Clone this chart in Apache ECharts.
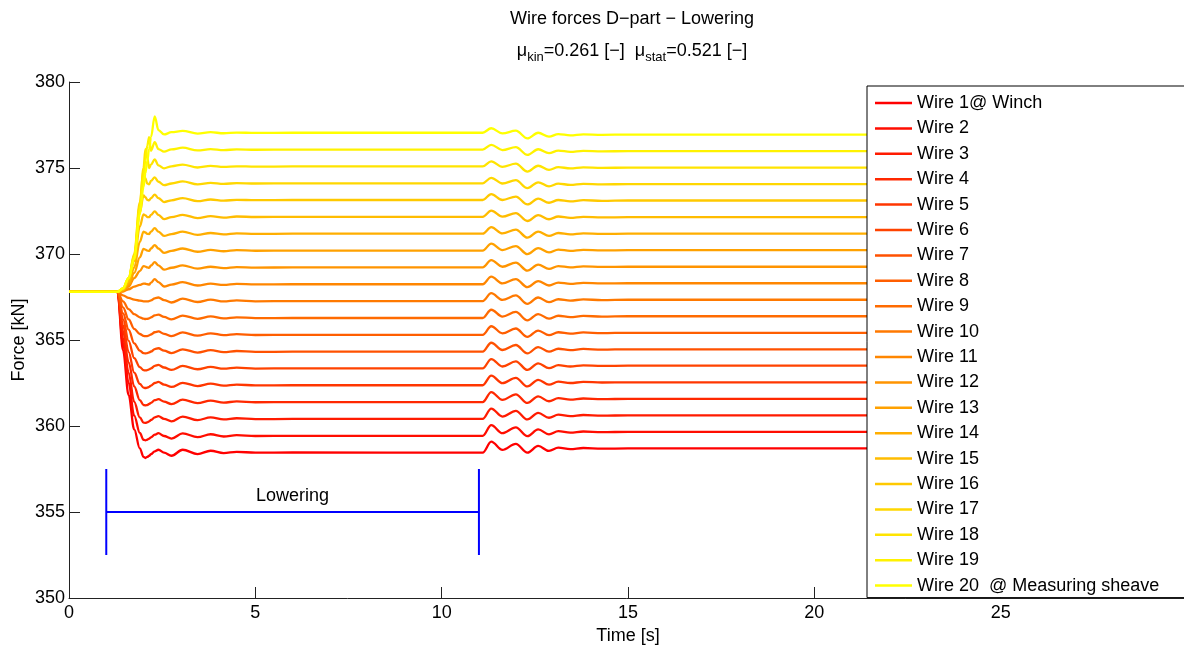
<!DOCTYPE html>
<html>
<head>
<meta charset="utf-8">
<title>Wire forces D-part - Lowering</title>
<script src="https://cdn.jsdelivr.net/npm/echarts@6/dist/echarts.min.js"></script>
<style>
  html, body { margin: 0; padding: 0; background: #fff; }
  #chart { width: 1184px; height: 646px; }
</style>
</head>
<body>
<div id="chart"></div>
<script>
// Simulation time [s]
const time = [0, 1.3, 1.45, 1.6, 1.75, 1.9, 2.0, 2.05, 2.1, 2.15, 2.2, 2.3, 2.4, 2.55, 2.75, 3.05, 3.45, 3.8, 4.15, 4.5, 5.0, 6.0, 11.1,
  11.33, 11.63, 11.99, 12.3, 12.59, 12.88, 13.13, 13.45, 13.8, 14.3, 15.0, 30];

// Wire forces [kN], from the winch (wire 1) to the measuring sheave (wire 20)
const wire01 = [367.8, 367.8, 364.4, 361.8, 359.8, 358.7, 358.2, 358.14, 358.2, 358.27, 358.36, 358.53, 358.62, 358.45, 358.27, 358.62, 358.37, 358.56, 358.42, 358.5, 358.45, 358.46, 358.45,
  359.09, 358.61, 358.96, 358.45, 358.84, 358.55, 358.74, 358.65, 358.72, 358.68, 358.70, 358.70];
const wire02 = [367.8, 367.8, 364.8, 362.5, 360.6, 359.6, 359.2, 359.17, 359.2, 359.26, 359.34, 359.5, 359.58, 359.42, 359.27, 359.57, 359.35, 359.52, 359.39, 359.47, 359.42, 359.43, 359.43,
  360.05, 359.58, 359.92, 359.41, 359.80, 359.51, 359.70, 359.61, 359.68, 359.64, 359.66, 359.66];
const wire03 = [367.8, 367.8, 365.1, 363.1, 361.4, 360.5, 360.2, 360.18, 360.21, 360.27, 360.35, 360.5, 360.57, 360.42, 360.27, 360.55, 360.34, 360.5, 360.38, 360.45, 360.4, 360.41, 360.41,
  361.01, 360.55, 360.88, 360.38, 360.76, 360.48, 360.66, 360.57, 360.64, 360.60, 360.62, 360.62];
const wire04 = [367.8, 367.8, 365.5, 363.7, 362.3, 361.5, 361.22, 361.2, 361.22, 361.28, 361.35, 361.5, 361.56, 361.42, 361.27, 361.53, 361.33, 361.48, 361.36, 361.43, 361.38, 361.39, 361.39,
  361.97, 361.52, 361.84, 361.34, 361.72, 361.44, 361.62, 361.53, 361.60, 361.56, 361.58, 361.58];
const wire05 = [367.8, 367.8, 365.85, 364.3, 363.1, 362.45, 362.23, 362.21, 362.23, 362.28, 362.35, 362.5, 362.56, 362.41, 362.27, 362.51, 362.32, 362.46, 362.35, 362.41, 362.36, 362.37, 362.37,
  362.93, 362.49, 362.80, 362.30, 362.68, 362.40, 362.58, 362.50, 362.56, 362.53, 362.54, 362.54];
const wire06 = [367.8, 367.8, 366.2, 364.95, 363.95, 363.42, 363.25, 363.23, 363.25, 363.29, 363.35, 363.5, 363.55, 363.4, 363.26, 363.49, 363.3, 363.44, 363.33, 363.39, 363.34, 363.35, 363.35,
  363.89, 363.46, 363.76, 363.26, 363.64, 363.36, 363.54, 363.46, 363.53, 363.49, 363.51, 363.51];
const wire07 = [367.8, 367.8, 366.55, 365.6, 364.8, 364.38, 364.24, 364.22, 364.24, 364.28, 364.33, 364.47, 364.52, 364.38, 364.24, 364.46, 364.27, 364.41, 364.3, 364.36, 364.31, 364.32, 364.32,
  364.84, 364.42, 364.71, 364.22, 364.59, 364.32, 364.49, 364.41, 364.48, 364.44, 364.46, 364.46];
const wire08 = [367.8, 367.8, 366.9, 366.2, 365.65, 365.35, 365.24, 365.22, 365.23, 365.27, 365.32, 365.45, 365.5, 365.36, 365.22, 365.44, 365.25, 365.39, 365.28, 365.34, 365.29, 365.3, 365.3,
  365.80, 365.39, 365.67, 365.18, 365.55, 365.28, 365.45, 365.37, 365.44, 365.40, 365.42, 365.42];
const wire09 = [367.8, 367.8, 367.25, 366.8, 366.5, 366.32, 366.24, 366.22, 366.23, 366.26, 366.31, 366.43, 366.48, 366.34, 366.2, 366.42, 366.23, 366.37, 366.26, 366.32, 366.27, 366.28, 366.28,
  366.76, 366.36, 366.63, 366.14, 366.51, 366.24, 366.41, 366.33, 366.40, 366.36, 366.38, 366.38];
const wire10 = [367.8, 367.8, 367.6, 367.45, 367.35, 367.29, 367.25, 367.24, 367.24, 367.26, 367.3, 367.42, 367.47, 367.32, 367.18, 367.4, 367.21, 367.35, 367.24, 367.3, 367.25, 367.26, 367.26,
  367.72, 367.33, 367.59, 367.10, 367.47, 367.20, 367.37, 367.29, 367.36, 367.32, 367.34, 367.34];
const wire11 = [367.8, 367.8, 367.82, 367.95, 368.1, 368.2, 368.28, 368.27, 368.24, 368.22, 368.34, 368.54, 368.36, 368.11, 368.22, 368.36, 368.17, 368.28, 368.2, 368.26, 368.23, 368.24, 368.24,
  368.68, 368.29, 368.54, 368.07, 368.42, 368.17, 368.34, 368.26, 368.32, 368.29, 368.30, 368.30];
const wire12 = [367.8, 367.8, 367.85, 368.1, 368.6, 369.0, 369.3, 369.27, 369.22, 369.2, 369.33, 369.53, 369.34, 369.09, 369.2, 369.34, 369.15, 369.26, 369.18, 369.24, 369.21, 369.22, 369.22,
  369.64, 369.26, 369.50, 369.03, 369.38, 369.13, 369.30, 369.22, 369.28, 369.25, 369.26, 369.26];
const wire13 = [367.8, 367.8, 367.9, 368.2, 368.9, 369.8, 370.3, 370.26, 370.2, 370.18, 370.32, 370.52, 370.32, 370.07, 370.18, 370.32, 370.13, 370.24, 370.16, 370.22, 370.19, 370.2, 370.2,
  370.60, 370.23, 370.46, 369.99, 370.34, 370.09, 370.26, 370.18, 370.24, 370.21, 370.22, 370.22];
const wire14 = [367.8, 367.8, 367.9, 368.3, 369.2, 370.7, 371.3, 371.25, 371.17, 371.16, 371.3, 371.5, 371.3, 371.05, 371.16, 371.3, 371.11, 371.22, 371.14, 371.2, 371.17, 371.18, 371.18,
  371.56, 371.20, 371.42, 370.95, 371.30, 371.05, 371.22, 371.14, 371.20, 371.17, 371.18, 371.18];
const wire15 = [367.8, 367.8, 367.95, 368.4, 369.6, 371.6, 372.3, 372.25, 372.15, 372.14, 372.28, 372.48, 372.28, 372.03, 372.14, 372.28, 372.09, 372.2, 372.12, 372.18, 372.15, 372.16, 372.16,
  372.52, 372.17, 372.38, 371.92, 372.26, 372.02, 372.18, 372.10, 372.16, 372.13, 372.14, 372.14];
const wire16 = [367.8, 367.8, 367.95, 368.5, 369.8, 372.4, 373.4, 373.3, 373.15, 373.12, 373.25, 373.45, 373.25, 373.02, 373.12, 373.25, 373.07, 373.17, 373.1, 373.15, 373.13, 373.14, 373.14,
  373.48, 373.14, 373.34, 372.88, 373.22, 372.98, 373.14, 373.06, 373.13, 373.09, 373.11, 373.11];
const wire17 = [367.8, 367.8, 368.0, 368.6, 370.0, 373.0, 374.9, 374.4, 374.1, 374.05, 374.25, 374.45, 374.2, 374.0, 374.1, 374.22, 374.05, 374.14, 374.08, 374.12, 374.1, 374.11, 374.11,
  374.43, 374.10, 374.29, 373.83, 374.17, 373.93, 374.09, 374.02, 374.08, 374.05, 374.06, 374.06];
const wire18 = [367.8, 367.8, 368.0, 368.6, 369.9, 372.8, 375.0, 376.1, 375.6, 375.0, 375.2, 375.5, 375.15, 374.98, 375.1, 375.2, 375.03, 375.12, 375.06, 375.1, 375.08, 375.09, 375.09,
  375.39, 375.07, 375.25, 374.79, 375.13, 374.89, 375.05, 374.98, 375.04, 375.01, 375.02, 375.02];
const wire19 = [367.8, 367.8, 368.0, 368.6, 369.8, 372.6, 374.5, 375.5, 376.3, 376.8, 376.0, 376.5, 376.1, 375.95, 376.08, 376.18, 376.02, 376.1, 376.04, 376.08, 376.06, 376.07, 376.07,
  376.35, 376.04, 376.21, 375.76, 376.09, 375.86, 376.01, 375.94, 376.00, 375.97, 375.98, 375.98];
const wire20 = [367.8, 367.8, 368.0, 368.6, 369.7, 372.3, 373.9, 374.7, 375.4, 376.1, 376.8, 378.0, 377.2, 376.95, 377.08, 377.16, 377.0, 377.08, 377.02, 377.06, 377.04, 377.05, 377.05,
  377.31, 377.01, 377.17, 376.72, 377.05, 376.82, 376.97, 376.90, 376.96, 376.93, 376.94, 376.94];

const wireNames = ['Wire 1@ Winch', 'Wire 2', 'Wire 3', 'Wire 4', 'Wire 5', 'Wire 6', 'Wire 7', 'Wire 8', 'Wire 9', 'Wire 10',
  'Wire 11', 'Wire 12', 'Wire 13', 'Wire 14', 'Wire 15', 'Wire 16', 'Wire 17', 'Wire 18', 'Wire 19', 'Wire 20  @ Measuring sheave'];

// Lowering phase: start/end time [s], marker level and bar end heights [kN]
const loweringStart = 1;
const loweringEnd = 11;
const loweringLevel = 355;
const loweringLow = 352.5;
const loweringHigh = 357.5;
const loweringText = 'Lowering';
const loweringTextPos = [6, 355.9];

const wires = [wire01, wire02, wire03, wire04, wire05, wire06, wire07, wire08, wire09, wire10,
  wire11, wire12, wire13, wire14, wire15, wire16, wire17, wire18, wire19, wire20];

const FONT = '"Liberation Sans", Arial, Helvetica, sans-serif';

// red -> yellow ("autumn") colour ramp over the wires
function wireColor(i, n) {
  const g = Math.round(255 * i / (n - 1));
  return 'rgb(255,' + g + ',0)';
}

const series = wires.map((vals, i) => {
  const c = wireColor(i, wires.length);
  return {
    type: 'line',
    name: wireNames[i],
    data: time.map((t, j) => [t, vals[j]]),
    smooth: 0.35,
    smoothMonotone: 'x',
    symbol: 'none',
    showSymbol: false,
    lineStyle: { width: 2.3, color: c },
    itemStyle: { color: c },
    emphasis: { disabled: true },
    z: 2
  };
});

const blue = '#0000ff';
function bar(points) {
  return {
    type: 'line', name: 'lowering-bar', data: points, symbol: 'none',
    lineStyle: { width: 2, color: blue }, itemStyle: { color: blue },
    emphasis: { disabled: true }, silent: true, z: 3
  };
}
series.push(bar([[loweringStart, loweringLow], [loweringStart, loweringHigh]]));
series.push(bar([[loweringStart, loweringLevel], [loweringEnd, loweringLevel]]));
series.push(bar([[loweringEnd, loweringLow], [loweringEnd, loweringHigh]]));
series.push({
  type: 'scatter', name: 'lowering-label', data: [loweringTextPos], symbolSize: 0, silent: true,
  itemStyle: { color: '#000', opacity: 1 },
  label: { show: true, position: 'inside', formatter: loweringText, fontSize: 18, color: '#000', fontFamily: FONT }
});

const chart = echarts.init(document.getElementById('chart'), null, { renderer: 'canvas' });
chart.setOption({
  animation: false,
  backgroundColor: '#fff',
  title: {
    text: 'Wire forces D\u2212part \u2212 Lowering',
    subtext: '{n|\u03bc}{s|kin}{n|=0.261 [\u2212]  \u03bc}{s|stat}{n|=0.521 [\u2212]}',
    left: 627,
    top: 5,
    textAlign: 'center',
    itemGap: 14,
    textStyle: { fontSize: 18, fontWeight: 'normal', color: '#000', fontFamily: FONT },
    subtextStyle: {
      fontFamily: FONT, color: '#000',
      rich: {
        n: { fontSize: 18, lineHeight: 20, verticalAlign: 'top', color: '#000', fontFamily: FONT },
        s: { fontSize: 13, lineHeight: 14, padding: [9, 0, 0, 0], verticalAlign: 'top', color: '#000', fontFamily: FONT }
      }
    }
  },
  grid: { left: 69, top: 82, width: 1118, height: 516, containLabel: false, outerBoundsMode: 'none' },
  legend: {
    data: wireNames,
    orient: 'vertical',
    left: 867,
    top: 86,
    icon: 'rect',
    itemWidth: 37,
    itemHeight: 2.5,
    itemGap: 5.4,
    padding: [7, 40, 2, 8],
    backgroundColor: '#fff',
    borderColor: '#000',
    borderWidth: 1,
    selectedMode: false,
    z: 10,
    textStyle: { fontSize: 18, color: '#000', fontFamily: FONT, lineHeight: 20 }
  },
  xAxis: {
    type: 'value', min: 0, max: 30, interval: 5,
    name: 'Time [s]', nameLocation: 'middle', nameGap: 28,
    nameTextStyle: { fontSize: 18, color: '#000', fontFamily: FONT },
    axisLine: { show: true, onZero: false, lineStyle: { color: '#222', width: 1 } },
    axisTick: { show: true, inside: true, length: 11, lineStyle: { color: '#222' } },
    axisLabel: { fontSize: 18, color: '#000', fontFamily: FONT, margin: 6,
      formatter: v => (v >= 30 ? '' : String(v)) },
    splitLine: { show: false }
  },
  yAxis: {
    type: 'value', min: 350, max: 380, interval: 5,
    name: 'Force [kN]', nameLocation: 'middle', nameGap: 41, nameMoveOverlap: false,
    nameTextStyle: { fontSize: 18, color: '#000', fontFamily: FONT },
    axisLine: { show: true, onZero: false, lineStyle: { color: '#222', width: 1 } },
    axisTick: { show: true, inside: true, length: 11, lineStyle: { color: '#222' } },
    axisLabel: { fontSize: 18, color: '#000', fontFamily: FONT, margin: 4 },
    splitLine: { show: false }
  },
  series: series
});
</script>
</body>
</html>
